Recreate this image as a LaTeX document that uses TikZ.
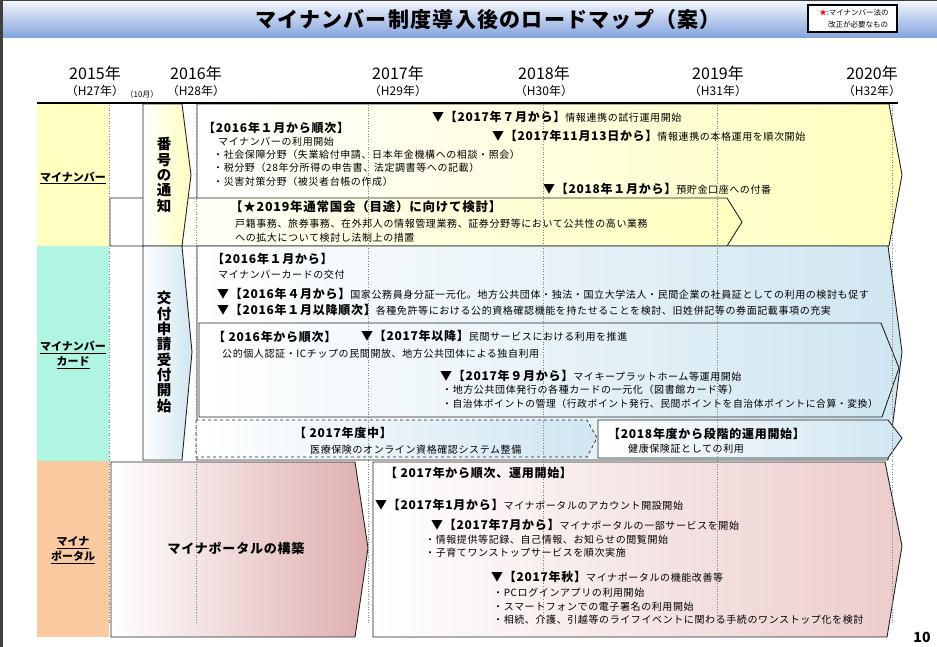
\documentclass[tikz,border=0pt]{standalone}
\usepackage{fontspec}
\setmainfont{Noto Sans CJK JP}
\newfontfamily\jps{Noto Sans CJK JP}[LetterSpace=6]
\definecolor{catY}{RGB}{255,255,191}
\definecolor{catM}{RGB}{176,245,226}
\definecolor{catP}{RGB}{250,201,160}
\definecolor{arY}{RGB}{255,255,190}
\definecolor{arB}{RGB}{208,230,241}
\definecolor{arP}{RGB}{222,174,174}
\definecolor{arP2}{RGB}{236,204,204}
\definecolor{titleB}{RGB}{130,162,222}
\definecolor{edge}{RGB}{35,35,35}
\newcommand\fs[1]{\fontsize{#1}{#1}\selectfont}
\newcommand\ev[2]{{\bfseries\fs{12}#1}{\fs{10}#2}}
\tikzset{
  arrowbox/.style={draw=edge, line width=0.9pt},
  dashbox/.style={draw=edge, line width=0.7pt, dashed},
  txt/.style={anchor=west, inner sep=0pt, font=\jps\fs{10}},
  hd/.style={anchor=west, inner sep=0pt, font=\jps\bfseries\fs{12}},
  yr/.style={inner sep=0pt, font=\fs{16}},
  hy/.style={inner sep=0pt, font=\fs{12}},
  cat/.style={inner sep=0pt, align=center, font=\bfseries\fontsize{11}{15}\selectfont},
  vert/.style={inner sep=0pt, align=center, font=\bfseries\fontsize{14.5}{15.3}\selectfont},
  gridline/.style={gray, dotted, line width=0.6pt},
}
\begin{document}
\begin{tikzpicture}[x=1pt,y=-1pt]
\useasboundingbox (0,0) rectangle (937,647);
\fill[white] (0,0) rectangle (937,647);
% title bar
\shade[top color=white!92!titleB, bottom color=titleB] (0,0) rectangle (937,38);
\fill[gray!50!black] (0,0) rectangle (937,1.2);
\fill[gray!50!black] (0,0) rectangle (3,647);
\node[inner sep=0pt, font=\jps\bfseries\fs{21}] (title) at (488,20) {マイナンバー制度導入後のロードマップ（案）};
\node[draw=black, line width=2pt, fill=white, minimum width=89, minimum height=27, inner sep=0pt] (legend) at (852.5,18.5) {};
\node[inner sep=0pt, font=\fs{7.5}] (lg1) at (854,13) {\textcolor{red}{★}:マイナンバー法の};
\node[inner sep=0pt, font=\fs{7.5}] (lg2) at (858,24.5) {改正が必要なもの};

% year header
\node[yr] (y15) at (95,73) {2015年};
\node[hy] (h27) at (95,91) {（H27年）};
\node[inner sep=0pt, font=\fs{8}] (m10) at (142,94) {（10月）};
\node[yr] (y16) at (196,73) {2016年};
\node[hy] (h28) at (196,91) {（H28年）};
\node[yr] (y17) at (398,73) {2017年};
\node[hy] (h29) at (398,91) {（H29年）};
\node[yr] (y18) at (544,73) {2018年};
\node[hy] (h30) at (544,91) {（H30年）};
\node[yr] (y19) at (718,73) {2019年};
\node[hy] (h31) at (718,91) {（H31年）};
\node[yr] (y20) at (872,73) {2020年};
\node[hy] (h32) at (872,91) {（H32年）};

% category column
\fill[catY] (37,104) rectangle (109,246);
\fill[catM] (37,246) rectangle (109,461);
\fill[catP] (37,461) rectangle (109,637);
\node[cat] (c1) at (73,178) {\underline{マイナンバー}};
\node[cat] (c2) at (73,355) {\underline{マイナンバー}\\\underline{カード}};
\node[cat] (c3) at (73,550) {\underline{マイナ}\\\underline{ポータル}};

% row 1
\path[arrowbox, left color=white, right color=arY] (197,104) -- (889,104) -- (902,175) -- (889,246) -- (197,246) -- cycle;
\path[arrowbox, left color=white, right color=arY] (110,198) -- (727,198) -- (742,222) -- (727,246) -- (110,246) -- cycle;
\path[arrowbox, left color=white, right color=arY] (143,104) -- (182,104) -- (191,175) -- (182,246) -- (143,246) -- cycle;

% row 2
\path[arrowbox, left color=white, right color=arB] (197,246) -- (888,246) -- (902,352) -- (888,460) -- (197,460) -- cycle;
\path[arrowbox, left color=white, right color=arB] (199,323) -- (881,323) -- (899,368) -- (882,417) -- (199,417) -- cycle;
\path[dashbox, left color=white, right color=arB] (196,420) -- (587,420) -- (597,438) -- (587,457) -- (196,457) -- cycle;
\path[arrowbox, left color=white, right color=arB] (598,420) -- (888,420) -- (902,438) -- (888,458) -- (598,458) -- cycle;
\path[arrowbox, left color=white, right color=arB] (143,246) -- (182,246) -- (192,352) -- (182,460) -- (143,460) -- cycle;

% row 3
\path[arrowbox, left color=white, right color=arP] (111,462) -- (355,462) -- (368,548) -- (355,637) -- (111,637) -- cycle;
\path[arrowbox, left color=white, right color=arP2] (373,462) -- (885,462) -- (902,546) -- (887,637) -- (373,637) -- cycle;

% grid
\foreach \gx in {109,196,368,543,717,892} \draw[gridline] (\gx,105) -- (\gx,625);
\draw[line width=1.8pt] (37,103) -- (898,103);

% vertical labels
\node[vert] (bango) at (164,175) {番\\号\\の\\通\\知};
\node[vert] (koufu) at (164,352) {交\\付\\申\\請\\受\\付\\開\\始};

% row 1 texts
\node[hd] (r1a) at (203,128) {【2016年１月から順次】};
\node[txt] (r1b) at (218,142) {マイナンバーの利用開始};
\node[txt] (r1c) at (213,155) {・社会保障分野（失業給付申請、日本年金機構への相談・照会）};
\node[txt] (r1d) at (213,168) {・税分野（28年分所得の申告書、法定調書等への記載）};
\node[txt] (r1e) at (213,182) {・災害対策分野（被災者台帳の作成）};
\node[txt] (r1f) at (432,117) {\ev{▼【2017年７月から】}{情報連携の試行運用開始}};
\node[txt] (r1g) at (492,136) {\ev{▼【2017年11月13日から】}{情報連携の本格運用を順次開始}};
\node[txt] (r1h) at (543,189) {\ev{▼【2018年１月から】}{預貯金口座への付番}};
\node[hd, font=\jps\bfseries\fs{12.5}] (r1i) at (230,207) {【★2019年通常国会（目途）に向けて検討】};
\node[txt] (r1j) at (235,224) {戸籍事務、旅券事務、在外邦人の情報管理業務、証券分野等において公共性の高い業務};
\node[txt] (r1k) at (235,238) {への拡大について検討し法制上の措置};

% row 2 texts
\node[hd] (r2a) at (212,259) {【2016年１月から】};
\node[txt] (r2b) at (218,275) {マイナンバーカードの交付};
\node[txt] (r2c) at (217,294) {\ev{▼【2016年４月から】}{国家公務員身分証一元化。地方公共団体・独法・国立大学法人・民間企業の社員証としての利用の検討も促す}};
\node[txt] (r2d) at (217,310) {\ev{▼【2016年１月以降順次】}{各種免許等における公的資格確認機能を持たせることを検討、旧姓併記等の券面記載事項の充実}};
\node[hd] (r2e) at (213,337) {【 2016年から順次】};
\node[txt] (r2f) at (361,336) {\ev{▼【2017年以降】}{民間サービスにおける利用を推進}};
\node[txt] (r2g) at (222,354) {公的個人認証・ICチップの民間開放、地方公共団体による独自利用};
\node[txt] (r2h) at (440,376) {\ev{▼【2017年９月から】}{マイキープラットホーム等運用開始}};
\node[txt] (r2i) at (442,390) {・地方公共団体発行の各種カードの一元化（図書館カード等）};
\node[txt, font=\jps\fs{9.8}] (r2j) at (442,404) {・自治体ポイントの管理（行政ポイント発行、民間ポイントを自治体ポイントに合算・変換）};
\node[hd, anchor=center] (r2k) at (343,433) {【 2017年度中】};
\node[txt] (r2l) at (310,450) {医療保険のオンライン資格確認システム整備};
\node[hd] (r2m) at (608,434) {【2018年度から段階的運用開始】};
\node[txt] (r2n) at (628,449) {健康保険証としての利用};

% row 3 texts
\node[inner sep=0pt, font=\jps\bfseries\fs{13}] (mpk) at (236,548) {マイナポータルの構築};
\node[hd] (r3a) at (385,473) {【 2017年から順次、運用開始】};
\node[txt] (r3b) at (375,505) {\ev{▼【2017年1月から】}{マイナポータルのアカウント開設開始}};
\node[txt] (r3c) at (431,525) {\ev{▼【2017年7月から】}{マイナポータルの一部サービスを開始}};
\node[txt] (r3d) at (425,540) {・情報提供等記録、自己情報、お知らせの閲覧開始};
\node[txt] (r3e) at (425,553) {・子育てワンストップサービスを順次実施};
\node[txt] (r3f) at (491,577) {\ev{▼【2017年秋】}{マイナポータルの機能改善等}};
\node[txt] (r3g) at (493,593) {・PCログインアプリの利用開始};
\node[txt] (r3h) at (493,607) {・スマートフォンでの電子署名の利用開始};
\node[txt] (r3i) at (493,620) {・相続、介護、引越等のライフイベントに関わる手続のワンストップ化を検討};
\node[inner sep=0pt, font=\bfseries\fs{14}] (pg) at (922,637) {10};
\end{tikzpicture}
\end{document}
